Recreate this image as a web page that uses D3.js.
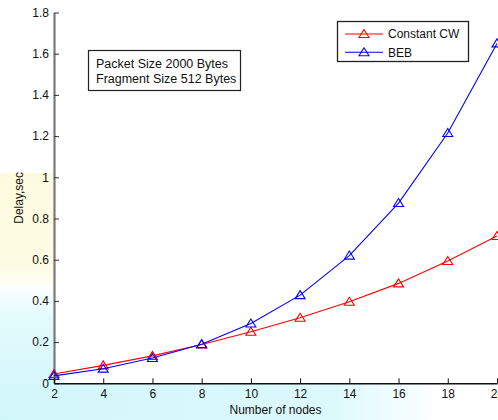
<!DOCTYPE html>
<html>
<head>
<meta charset="utf-8">
<script src="https://cdn.jsdelivr.net/npm/d3@7/dist/d3.min.js"></script>
<style>
  html, body { margin: 0; padding: 0; background: #fff; }
  svg { display: block; font-family: "Liberation Sans", Arial, sans-serif; }
</style>
</head>
<body>
<svg id="chart" width="498" height="420"></svg>
<script>
// Number of nodes on the x axis
const nodes = [2, 4, 6, 8, 10, 12, 14, 16, 18, 20];
// Mean delay (seconds) for each contention scheme
const constantCW = [0.045, 0.087, 0.133, 0.188, 0.25, 0.318, 0.396, 0.485, 0.594, 0.715];
const beb = [0.036, 0.071, 0.123, 0.19, 0.29, 0.428, 0.62, 0.875, 1.215, 1.65];
// Axis tick values
const xTicks = [2, 4, 6, 8, 10, 12, 14, 16, 18, 20];
const yTicks = [0, 0.2, 0.4, 0.6, 0.8, 1, 1.2, 1.4, 1.6, 1.8];

const series = [
  { name: "Constant CW", values: constantCW, color: "#ff0000" },
  { name: "BEB", values: beb, color: "#0000ff" }
];

const svg = d3.select("#chart");
const W = 498, H = 420;

// Soft slide background showing through behind the figure
const defs = svg.append("defs");
const yel = defs.append("linearGradient").attr("id", "yel").attr("x1", 0).attr("y1", 0).attr("x2", 0).attr("y2", 1);
yel.append("stop").attr("offset", "0%").attr("stop-color", "#fdfbdf");
yel.append("stop").attr("offset", "70%").attr("stop-color", "#fdfbe2");
yel.append("stop").attr("offset", "100%").attr("stop-color", "#ffffff");
const cyanL = defs.append("linearGradient").attr("id", "cyanL").attr("x1", 0).attr("y1", 0).attr("x2", 0).attr("y2", 1);
cyanL.append("stop").attr("offset", "0%").attr("stop-color", "#ffffff");
cyanL.append("stop").attr("offset", "25%").attr("stop-color", "#e2fafc");
cyanL.append("stop").attr("offset", "100%").attr("stop-color", "#d2f7fb");
const cyanB = defs.append("linearGradient").attr("id", "cyanB").attr("x1", 0).attr("y1", 0).attr("x2", 1).attr("y2", 0);
cyanB.append("stop").attr("offset", "0%").attr("stop-color", "#d2f7fb");
cyanB.append("stop").attr("offset", "75%").attr("stop-color", "#dcf9fc");
cyanB.append("stop").attr("offset", "100%").attr("stop-color", "#ffffff");

svg.append("rect").attr("width", W).attr("height", H).attr("fill", "#fff");
svg.append("rect").attr("x", 0).attr("y", 173).attr("width", 54).attr("height", 125).attr("fill", "url(#yel)");
svg.append("rect").attr("x", 0).attr("y", 285).attr("width", 54).attr("height", 135).attr("fill", "url(#cyanL)");
svg.append("rect").attr("x", 0).attr("y", 384).attr("width", 440).attr("height", 36).attr("fill", "url(#cyanB)");

// Scales
const x = d3.scaleLinear().domain([2, 20]).range([54, 497]);
const y = d3.scaleLinear().domain([0, 1.8]).range([383.3, 12.5]);

// Y axis (grey, ticks pointing inward)
const yAxis = svg.append("g")
  .attr("transform", `translate(${x(2)},0)`)
  .call(d3.axisLeft(y).tickValues(yTicks).tickFormat(d3.format("~g"))
    .tickSizeInner(-5).tickSizeOuter(0).tickPadding(5));
yAxis.select(".domain").attr("stroke", "#7a7a7a").attr("stroke-width", 2.2);
yAxis.selectAll(".tick line").attr("stroke", "#333").attr("stroke-width", 1);
yAxis.selectAll(".tick text").attr("font-size", 12).attr("fill", "#111")
  .attr("font-family", "'Liberation Sans', Arial, sans-serif");

// X axis (black, ticks pointing inward)
const xAxis = svg.append("g")
  .attr("transform", `translate(0,${y(0)})`)
  .call(d3.axisBottom(x).tickValues(xTicks).tickFormat(d3.format("d"))
    .tickSizeInner(-5).tickSizeOuter(0).tickPadding(6));
xAxis.select(".domain").attr("stroke", "#111").attr("stroke-width", 1.6);
xAxis.selectAll(".tick line").attr("stroke", "#111").attr("stroke-width", 1);
xAxis.selectAll(".tick text").attr("font-size", 12).attr("fill", "#111")
  .attr("font-family", "'Liberation Sans', Arial, sans-serif");

// Axis titles
svg.append("text")
  .attr("transform", `translate(23,${(y(0) + y(1.8)) / 2}) rotate(-90)`)
  .attr("text-anchor", "middle").attr("font-size", 12).attr("fill", "#111")
  .text("Delay,sec");
svg.append("text")
  .attr("x", (x(2) + x(20)) / 2).attr("y", 414)
  .attr("text-anchor", "middle").attr("font-size", 12).attr("fill", "#111")
  .text("Number of nodes");

// Open triangle marker shape
const tri = "M0,-4.5L5,3.5L-5,3.5Z";

// Series lines and markers
const line = d3.line().x((d, i) => x(nodes[i])).y(d => y(d));
series.forEach(s => {
  svg.append("path").datum(s.values)
    .attr("d", line).attr("fill", "none")
    .attr("stroke", s.color).attr("stroke-width", 1.1);
  svg.append("g").selectAll("path").data(s.values).join("path")
    .attr("transform", (d, i) => `translate(${x(nodes[i])},${y(d)})`)
    .attr("d", tri).attr("fill", "none")
    .attr("stroke", s.color).attr("stroke-width", 1.1);
});

// Annotation box
const note = svg.append("g");
note.append("rect").attr("x", 88.5).attr("y", 50.5).attr("width", 152).attr("height", 40)
  .attr("fill", "#fff").attr("stroke", "#222").attr("stroke-width", 1.2);
note.append("text").attr("x", 96).attr("y", 68).attr("font-size", 12.5).attr("fill", "#111")
  .text("Packet Size 2000 Bytes");
note.append("text").attr("x", 96).attr("y", 83).attr("font-size", 12.5).attr("fill", "#111")
  .text("Fragment Size 512 Bytes");

// Legend
const legend = svg.append("g");
legend.append("rect").attr("x", 337.5).attr("y", 21.5).attr("width", 131).attr("height", 40)
  .attr("fill", "#fff").attr("stroke", "#222").attr("stroke-width", 1.3);
series.forEach((s, i) => {
  const ly = 34 + i * 18.3;
  legend.append("line").attr("x1", 345).attr("x2", 383).attr("y1", ly).attr("y2", ly)
    .attr("stroke", s.color).attr("stroke-width", 1.1);
  legend.append("path").attr("transform", `translate(364,${ly})`).attr("d", tri)
    .attr("fill", "none").attr("stroke", s.color).attr("stroke-width", 1.1);
  legend.append("text").attr("x", 388).attr("y", ly + 4.3).attr("font-size", 12).attr("fill", "#111")
    .text(s.name);
});
</script>
</body>
</html>
